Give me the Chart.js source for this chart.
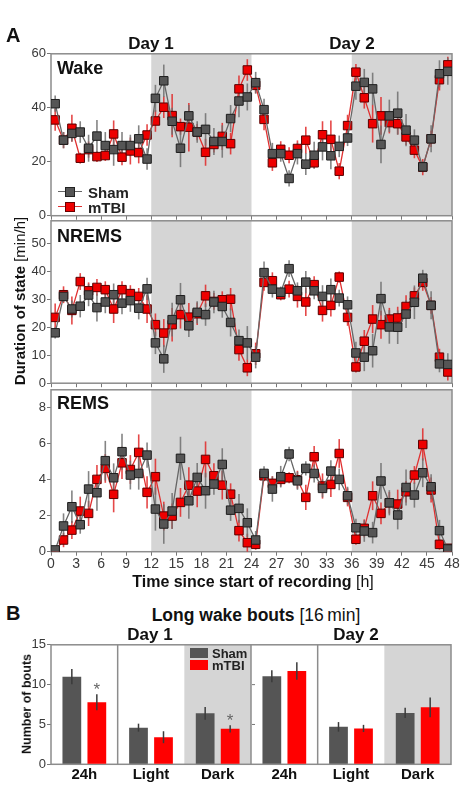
<!DOCTYPE html>
<html><head><meta charset="utf-8">
<script src="https://cdn.jsdelivr.net/npm/chart.js@4.4.1/dist/chart.umd.min.js"></script>
<style>
html,body{margin:0;padding:0;background:#fff;width:463px;height:799px;overflow:hidden;font-family:"Liberation Sans",Arial,sans-serif;}
canvas{position:absolute;left:0;}
.t{position:absolute;white-space:nowrap;color:#111;line-height:1;font-weight:bold;}
.n{font-weight:normal;}
.ctr{transform:translateX(-50%);}
.rot{transform:translate(-50%,-50%) rotate(-90deg);}
.mk{position:absolute;}
</style></head><body>
<canvas id="wake" style="top:45px;width:463px;height:180px" width="463" height="180"></canvas>
<canvas id="nrems" style="top:212px;width:463px;height:180px" width="463" height="180"></canvas>
<canvas id="rems" style="top:381px;width:463px;height:191px" width="463" height="191"></canvas>
<canvas id="bouts" style="top:636px;width:463px;height:163px" width="463" height="163"></canvas>

<div class="t" style="left:6px;top:25px;font-size:20px;">A</div>
<div class="t ctr" style="left:151px;top:35px;font-size:17px;">Day 1</div>
<div class="t ctr" style="left:352px;top:35px;font-size:17px;">Day 2</div>
<div class="t" style="left:57px;top:59px;font-size:18px;">Wake</div>
<div class="t" style="left:57px;top:227px;font-size:18px;">NREMS</div>
<div class="t" style="left:57px;top:394px;font-size:18px;">REMS</div>
<div class="t rot" style="left:19px;top:301px;font-size:15px;">Duration of state <span class="n">[min/h]</span></div>
<div class="t ctr" style="left:253px;top:574px;font-size:16px;">Time since start of recording <span class="n">[h]</span></div>

<div class="mk" style="left:58px;top:191px;width:24px;height:1.4px;background:#666;"></div>
<div class="mk" style="left:65px;top:187px;width:8px;height:8px;background:#555;border:1px solid #222;"></div>
<div class="t" style="left:88px;top:185px;font-size:15px;color:#222;">Sham</div>
<div class="mk" style="left:58px;top:206px;width:24px;height:1.4px;background:#e03030;"></div>
<div class="mk" style="left:65px;top:202px;width:8px;height:8px;background:#ee0000;border:1px solid #6a0000;"></div>
<div class="t" style="left:88px;top:200px;font-size:15px;color:#222;">mTBI</div>

<div class="t" style="left:6px;top:603px;font-size:20px;">B</div>
<div class="t ctr" style="left:256px;top:607px;font-size:17.5px;">Long wake bouts <span class="n">[16&#8201;min]</span></div>
<div class="t ctr" style="left:150px;top:626px;font-size:17px;">Day 1</div>
<div class="t ctr" style="left:356px;top:626px;font-size:17px;">Day 2</div>
<div class="t rot" style="left:27px;top:704px;font-size:12.5px;">Number of bouts</div>
<div class="mk" style="left:190px;top:648px;width:18px;height:10px;background:#555;"></div>
<div class="t" style="left:212px;top:647px;font-size:13px;color:#222;">Sham</div>
<div class="mk" style="left:190px;top:660px;width:18px;height:10px;background:#ff0000;"></div>
<div class="t" style="left:212px;top:659px;font-size:13px;color:#222;">mTBI</div>

<script>
// ---------- data ----------
const hours = [0.5,1.5,2.5,3.5,4.5,5.5,6.5,7.5,8.5,9.5,10.5,11.5,12.5,13.5,14.5,15.5,16.5,17.5,18.5,19.5,20.5,21.5,22.5,23.5,
               24.5,25.5,26.5,27.5,28.5,29.5,30.5,31.5,32.5,33.5,34.5,35.5,36.5,37.5,38.5,39.5,40.5,41.5,42.5,43.5,44.5,45.5,46.5,47.5];
const darkPeriods = [[12,24],[36,48]];

const wakeSham = [41.5,28,30.5,31,25,29.5,26,24.5,26,26,28.5,21, 43.5,50,35,25,37,31,32,27.5,27.5,36,42.5,44,
                  49.3,39.3,23,23,13.8,23,19.1,22.4,25.5,22.2,25.7,28.8, 48,49.4,47,26.4,37,38,31.7,28,18.1,28.5,52.6,53.5];
const wakeMtbi = [35.5,28,32.4,21.3,24.5,21.9,22.3,30.3,21.7,24,23.4,29.9, 35.1,40.2,37.1,33,32.8,31,23.5,26.4,29.4,26.7,47,54,
                  48.3,35.7,19.6,24.6,22.4,24.9,28,19.6,30,28.3,16.5,33.4, 53.2,43.7,34.1,37,34.5,34.1,29.2,24.3,18,28.5,50.4,55.9];
const wakeShamErr = [3,3,3,4,5,6,5,6,5,4,5,4, 5,6,5,7,4,4,6,5,6,5,6,5, 4,4,4,3,3,4,4,5,5,5,4,3, 5,5,6,7,6,8,6,4,2,5,5,5];
const wakeMtbiErr = [4,3,5,2,3,2,2,5,3,5,4,4, 4,4,8,3,9,3,5,3,5,4,5,4, 3,4,3,3,3,3,5,2,5,7,3,4, 3,4,7,7,4,4,3,3,3,3,4,3];

const nremsSham = [18,31,26.5,27.5,31.5,27,29,31.6,28.6,29.5,26.8,33.7, 14.4,8.7,22.7,29.8,20.5,25.3,24.5,29,27.4,21.7,15.2,14.4,
                   9.3,39.5,33.6,32.5,40.9,33,36.1,33,31,33.4,30.4,28, 10.8,9.3,11.6,30.2,20.1,20,24.7,28.9,37.5,27.8,6.9,6.7];
const nremsMtbi = [23.5,31.6,26,36.3,33,34.2,33.4,26.5,33.4,32,31,26.5, 20.9,17.9,20.9,24.5,23.6,24.8,31.2,29.2,29.8,30,12,5.5,
                   10.5,36,36.6,31.6,33.6,31,29,35.2,26,27.8,37.9,23.5, 5.8,15,22.9,20.9,22.9,23.3,27.4,31.2,36,27.8,9.3,4];
const nremsShamErr = [2,2,3,4,4,5,4,4,4,4,4,4, 4,5,6,6,4,4,4,4,4,5,4,6, 4,4,3,2,3,3,4,3,4,4,3,3, 4,5,6,6,6,6,5,6,3,5,3,4];
const nremsMtbiErr = [5,3,5,3,3,3,3,5,3,3,3,5, 4,5,6,5,5,4,4,3,3,4,4,3, 4,3,3,2,3,4,5,3,4,4,2,3, 2,4,5,5,4,4,4,3,3,3,3,3];

const remsSham = [0.1,1.43,2.5,1.5,3.48,3.28,5.06,4.11,5.56,4.26,4.35,5.37, 2.37,1.54,2.26,5.19,2.83,4.13,3.39,3.76,4.85,2.31,2.41,1.61,
                  0.65,4.35,3.48,4.17,5.43,3.94,4.63,4.35,3.52,4.48,4.02,3.11, 1.33,1.15,1.06,3.93,2.72,2.04,3.57,3.15,4.39,3.61,1.17,0.15];
const remsMtbi = [0.05,0.65,1.2,2.26,2.13,4.02,4.63,3.19,4.94,4.57,5.52,3.3, 4.17,1.98,1.98,2.74,3.7,3.37,5.13,4.22,3.7,3.2,1.17,0.5,
                  0.41,4.22,3.8,4.02,4.11,4,3.02,5.28,3.65,3.74,5.46,3.02, 0.69,1.3,3.11,2.13,2.72,2.65,3.33,4.26,5.96,3.43,0.41,0.19];
const remsShamErr = [0.1,0.7,0.9,0.5,1.0,1.0,1.1,0.8,1.0,0.8,0.9,0.7, 1.2,1.1,1.0,1.2,1.0,0.8,1.0,0.6,0.9,0.6,0.8,0.8,
                     0.5,0.4,0.7,0.6,0.4,0.5,0.4,0.5,0.5,0.6,0.6,0.5, 0.5,0.6,0.6,1.0,0.7,0.8,1.0,0.7,0.8,0.7,0.6,0.2];
const remsMtbiErr = [0.1,0.4,0.5,0.8,0.7,0.8,0.8,1.0,0.9,0.8,1.0,0.9, 1.0,0.8,0.7,0.8,1.0,0.9,1.0,0.7,0.8,0.6,0.6,0.5,
                     0.3,0.3,0.4,0.4,0.3,0.5,0.7,0.6,0.7,0.7,0.8,0.5, 0.3,0.5,0.8,0.6,0.6,0.8,0.6,0.5,0.9,0.7,0.3,0.2];

const boutCats = ['24h','Light','Dark','24h','Light','Dark'];
const boutDark = [false,false,true,false,false,true];
const boutSham = [11.0,4.6,6.4,11.05,4.7,6.45];
const boutMtbi = [7.8,3.4,4.45,11.7,4.5,7.15];
const boutShamErr = [0.95,0.5,0.8,0.75,0.6,0.65];
const boutMtbiErr = [1.0,0.75,0.45,1.1,0.45,1.25];
const boutSig = ['*','','*','','',''];

// ---------- style ----------
const FONT = '"Liberation Sans", Arial, sans-serif';
const SHADE = '#d5d5d5';
const FRAME = '#8c8c8c';

const linePlugin = {
  id: 'linePanel',
  beforeDatasetsDraw(chart) {
    const {ctx, chartArea: a, scales: {x, y}} = chart;
    ctx.save();
    ctx.fillStyle = SHADE;
    darkPeriods.forEach(([s, e]) => {
      const x0 = x.getPixelForValue(s), x1 = x.getPixelForValue(e);
      ctx.fillRect(x0, a.top, x1 - x0, a.bottom - a.top);
    });
    ctx.strokeStyle = FRAME; ctx.lineWidth = 1.5;
    ctx.strokeRect(a.left, a.top, a.right - a.left, a.bottom - a.top);
    chart.data.datasets.slice().reverse().forEach((ds) => {
      const i = chart.data.datasets.indexOf(ds);
      const meta = chart.getDatasetMeta(i);
      ctx.strokeStyle = ds.errColor; ctx.lineWidth = 1.6;
      meta.data.forEach((pt, j) => {
        const v = ds.data[j].y, e = ds.err[j];
        ctx.beginPath();
        ctx.moveTo(pt.x, y.getPixelForValue(Math.max(0, v - e)));
        ctx.lineTo(pt.x, y.getPixelForValue(v + e));
        ctx.stroke();
      });
    });
    ctx.restore();
  }
};

function makeLine(id, sham, mtbi, shamErr, mtbiErr, ymax, ystep, showX, xH) {
  new Chart(document.getElementById(id), {
    type: 'line',
    data: {
      datasets: [
        {label: 'Sham', data: hours.map((h, i) => ({x: h, y: sham[i]})), err: shamErr, errColor: 'rgba(110,110,110,0.85)',
         borderColor: '#666', borderWidth: 1.3, pointStyle: 'rect', pointRadius: 6, pointBackgroundColor: '#555',
         pointBorderColor: '#1e1e1e', pointBorderWidth: 1, tension: 0},
        {label: 'mTBI', data: hours.map((h, i) => ({x: h, y: mtbi[i]})), err: mtbiErr, errColor: 'rgba(225,40,40,0.85)',
         borderColor: '#e03030', borderWidth: 1.3, pointStyle: 'rect', pointRadius: 6, pointBackgroundColor: '#ee0000',
         pointBorderColor: '#5a0000', pointBorderWidth: 1, tension: 0}
      ]
    },
    options: {
      responsive: false, animation: false, events: [],
      layout: {padding: {top: 8.3, right: 11, left: 0, bottom: 0}},
      plugins: {legend: {display: false}, tooltip: {enabled: false}},
      scales: {
        x: {type: 'linear', min: 0, max: 48,
            ticks: {display: showX, stepSize: 3, autoSkip: false, maxRotation: 0, padding: 0,
                    color: '#3a3a3a', font: {family: FONT, size: 14}},
            grid: {display: true, drawOnChartArea: false, drawTicks: true, tickLength: 4, color: '#777'},
            border: {display: false},
            afterFit: s => { s.height = xH; }},
        y: {min: 0, max: ymax,
            ticks: {stepSize: ystep, includeBounds: false, padding: 1, color: '#3a3a3a', font: {family: FONT, size: 13}},
            grid: {display: true, drawOnChartArea: false, drawTicks: true, tickLength: 4, color: '#777'},
            border: {display: false},
            afterFit: s => { s.width = 51; }}
      }
    },
    plugins: [linePlugin]
  });
}

makeLine('wake', wakeSham, wakeMtbi, wakeShamErr, wakeMtbiErr, 60, 20, false, 9.3);
makeLine('nrems', nremsSham, nremsMtbi, nremsShamErr, nremsMtbiErr, 58, 10, false, 8.3);
makeLine('rems', remsSham, remsMtbi, remsShamErr, remsMtbiErr, 9, 2, true, 20.3);

const barPlugin = {
  id: 'barPanel',
  beforeDatasetsDraw(chart) {
    const {ctx, chartArea: a, scales: {x, y}} = chart;
    const w = x.getPixelForValue(1) - x.getPixelForValue(0);
    ctx.save();
    ctx.fillStyle = SHADE;
    boutDark.forEach((d, i) => {
      if (d) {
        const c = x.getPixelForValue(i);
        const x0 = c - w / 2, x1 = Math.min(c + w / 2, a.right);
        ctx.fillRect(x0, a.top, x1 - x0, a.bottom - a.top);
      }
    });
    ctx.strokeStyle = FRAME; ctx.lineWidth = 1.5;
    ctx.strokeRect(a.left, a.top, a.right - a.left, a.bottom - a.top);
    [0, 2, 3].forEach(i => {
      const bx = x.getPixelForValue(i) + w / 2;
      ctx.beginPath(); ctx.moveTo(bx, a.top); ctx.lineTo(bx, a.bottom); ctx.stroke();
    });
    const bx = x.getPixelForValue(2) + w / 2;
    ctx.lineWidth = 1; ctx.strokeStyle = '#777';
    [5, 10].forEach(v => {
      const py = y.getPixelForValue(v);
      ctx.beginPath(); ctx.moveTo(bx + 1, py); ctx.lineTo(bx + 4, py); ctx.stroke();
    });
    ctx.restore();
  },
  afterDatasetsDraw(chart) {
    const {ctx, scales: {y}} = chart;
    ctx.save();
    chart.data.datasets.forEach((ds, i) => {
      const meta = chart.getDatasetMeta(i);
      ctx.strokeStyle = '#3a3a3a'; ctx.lineWidth = 1.5;
      meta.data.forEach((bar, j) => {
        const v = ds.data[j], e = ds.err[j];
        ctx.beginPath();
        ctx.moveTo(bar.x, y.getPixelForValue(v - e));
        ctx.lineTo(bar.x, y.getPixelForValue(v + e));
        ctx.stroke();
        if (ds.sig && ds.sig[j]) {
          ctx.fillStyle = '#666';
          ctx.font = '17px ' + FONT;
          ctx.textAlign = 'center'; ctx.textBaseline = 'middle';
          ctx.fillText(ds.sig[j], bar.x, y.getPixelForValue(v + e) - 4);
        }
      });
    });
    ctx.restore();
  }
};

new Chart(document.getElementById('bouts'), {
  type: 'bar',
  data: {
    labels: boutCats,
    datasets: [
      {label: 'Sham', data: boutSham, err: boutShamErr, backgroundColor: '#555555',
       categoryPercentage: 0.75, barPercentage: 0.75},
      {label: 'mTBI', data: boutMtbi, err: boutMtbiErr, sig: boutSig, backgroundColor: '#ff0000',
       categoryPercentage: 0.75, barPercentage: 0.75}
    ]
  },
  options: {
    responsive: false, animation: false, events: [],
    layout: {padding: {top: 8.3, right: 12, left: 0, bottom: 0}},
    plugins: {legend: {display: false}, tooltip: {enabled: false}},
    scales: {
      x: {ticks: {color: '#111', padding: -6, font: {family: FONT, size: 15, weight: 'bold'}},
          grid: {display: false}, border: {display: false},
          afterFit: s => { s.height = 34.7; }},
      y: {min: 0, max: 15,
          ticks: {stepSize: 5, padding: 1, color: '#3a3a3a', font: {family: FONT, size: 13}},
          grid: {display: true, drawOnChartArea: false, drawTicks: true, tickLength: 4, color: '#777'},
          border: {display: false},
          afterFit: s => { s.width = 51; }}
    }
  },
  plugins: [barPlugin]
});
</script>
</body></html>
